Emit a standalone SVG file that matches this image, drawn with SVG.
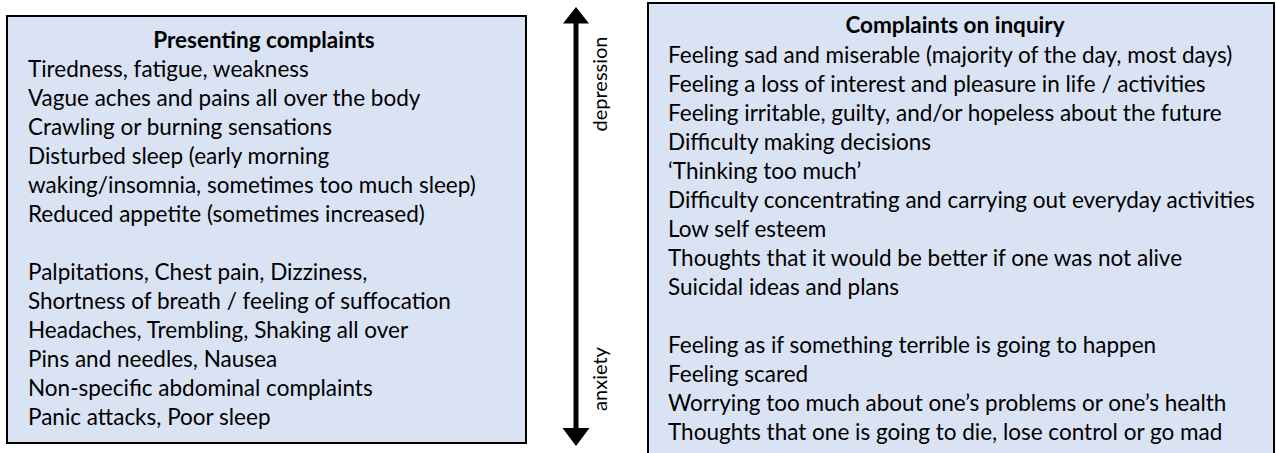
<svg xmlns="http://www.w3.org/2000/svg" width="1277" height="453" viewBox="0 0 1277 453">
<style>
.box{fill:#DAE3F3;stroke:#000;stroke-width:2}
.t{font-family:Lato,"Open Sans",sans-serif;font-size:22.5px;fill:#000}
.h{font-weight:bold;text-anchor:middle}
.lab{font-family:Lato,"Open Sans",sans-serif;font-size:20px;fill:#000;text-anchor:middle}
</style>
<rect width="1277" height="453" fill="#fff"/>
<g id="presenting">
<rect class="box" x="7" y="16" width="519" height="427"/>
<text class="t h" x="264" y="48">Presenting complaints</text>
<text class="t" x="28" y="77">Tiredness, fatigue, weakness</text>
<text class="t" x="28" y="106">Vague aches and pains all over the body</text>
<text class="t" x="28" y="135">Crawling or burning sensations</text>
<text class="t" x="28" y="164">Disturbed sleep (early morning</text>
<text class="t" x="28" y="193">waking/insomnia, sometimes too much sleep)</text>
<text class="t" x="28" y="222">Reduced appetite (sometimes increased)</text>
<text class="t" x="28" y="280">Palpitations, Chest pain, Dizziness,</text>
<text class="t" x="28" y="309">Shortness of breath / feeling of suffocation</text>
<text class="t" x="28" y="338">Headaches, Trembling, Shaking all over</text>
<text class="t" x="28" y="367">Pins and needles, Nausea</text>
<text class="t" x="28" y="396">Non-specific abdominal complaints</text>
<text class="t" x="28" y="425">Panic attacks, Poor sleep</text>
</g>
<g id="inquiry">
<rect class="box" x="648" y="3" width="626" height="470"/>
<text class="t h" x="955" y="33">Complaints on inquiry</text>
<text class="t" x="668" y="63">Feeling sad and miserable (majority of the day, most days)</text>
<text class="t" x="668" y="92">Feeling a loss of interest and pleasure in life / activities</text>
<text class="t" x="668" y="121">Feeling irritable, guilty, and/or hopeless about the future</text>
<text class="t" x="668" y="150">Difficulty making decisions</text>
<text class="t" x="668" y="179">‘Thinking too much’</text>
<text class="t" x="668" y="208">Difficulty concentrating and carrying out everyday activities</text>
<text class="t" x="668" y="237">Low self esteem</text>
<text class="t" x="668" y="266">Thoughts that it would be better if one was not alive</text>
<text class="t" x="668" y="295">Suicidal ideas and plans</text>
<text class="t" x="668" y="353">Feeling as if something terrible is going to happen</text>
<text class="t" x="668" y="382">Feeling scared</text>
<text class="t" x="668" y="411">Worrying too much about one’s problems or one’s health</text>
<text class="t" x="668" y="440">Thoughts that one is going to die, lose control or go mad</text>
</g>
<g id="connectors">
<line x1="576" y1="22" x2="576" y2="429" stroke="#000" stroke-width="5"/>
<polygon points="576,7 563,23.5 589,23.5" fill="#000"/>
<polygon points="576,446 562.5,428 589.5,428" fill="#000"/>
</g>
<g id="axis-labels">
<text class="lab" transform="translate(607,84) rotate(-90)">depression</text>
<text class="lab" transform="translate(607,379) rotate(-90)">anxiety</text>
</g>
</svg>
